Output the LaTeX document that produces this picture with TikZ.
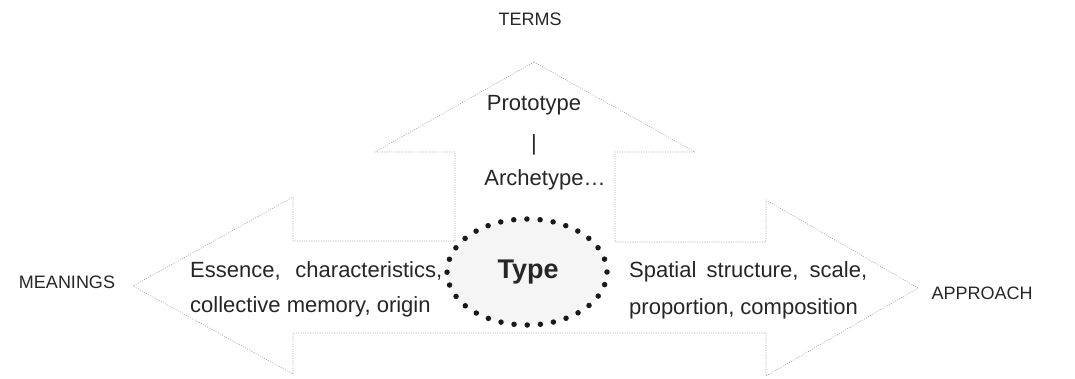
\documentclass[tikz,border=0pt]{standalone}
\usepackage{fontspec}
\setmainfont{Liberation Sans}
\usepackage{tikz}
\usetikzlibrary{shapes.geometric}
\usepackage{tkz-euclide}

\tikzset{
  outline/.style={draw=gray!70, line width=0.7pt, dash pattern=on 0.6pt off 1.8pt},
  headword/.style={anchor=base, inner sep=0pt, text=black!85, font=\fontsize{18}{20}\selectfont},
  bodytext/.style={anchor=base west, inner sep=0pt, text=black!85, font=\fontsize{22}{26}\selectfont},
  typeblob/.style={ellipse, draw=black!90, fill=gray!8, line width=5.5pt, line cap=round,
    dash pattern=on 0pt off 13.2pt, minimum width=160pt, minimum height=106pt, inner sep=0pt}
}

\begin{document}
\begin{tikzpicture}[x=1pt, y=-1pt]
        \useasboundingbox (0,0) rectangle (1075,378);
        % corners of the three arrows
        \tkzDefPoints{534/62/T, 695/152/HR, 615/152/SRT, 615/242/SRB, 766/242/RHT, 766/200/RT,
          918/288/RP, 766/376/RB, 766/333/RHB, 293/333/LHB, 293/374/LB, 133/286/LP,
          293/197/LT, 293/241/LHT, 455/241/SLB, 455/152/SLT, 375/152/HL}
        \tkzDrawPolygon[outline](T,HR,SRT,SRB,RHT,RT,RP,RB,RHB,LHB,LB,LP,LT,LHT,SLB,SLT,HL)

        \node[typeblob] (type) at (527,272) {};
        \node[anchor=base, inner sep=0pt, text=black!85, font=\fontsize{27}{30}\selectfont\bfseries]
          (typeword) at (528,278) {Type};

        \node[headword] (terms) at (530,25) {TERMS};
        \node[headword] (meanings) at (67,288) {MEANINGS};
        \node[headword] (approach) at (982,299) {APPROACH};

        \node[bodytext, anchor=base] (proto) at (534,110) {Prototype};
        \node[bodytext, anchor=base] (bar) at (534,150) {|};
        \node[bodytext, anchor=base] (arche) at (545,185) {Archetype…};

        \node[bodytext] (essA) at (190,277) {\makebox[252pt][s]{Essence, characteristics,}};
        \node[bodytext] (essB) at (190,312) {collective memory, origin};
        \node[bodytext] (spaA) at (629,277) {\makebox[238pt][s]{Spatial structure, scale,}};
        \node[bodytext] (spaB) at (629,314) {proportion, composition};
    \end{tikzpicture}
\end{document}
